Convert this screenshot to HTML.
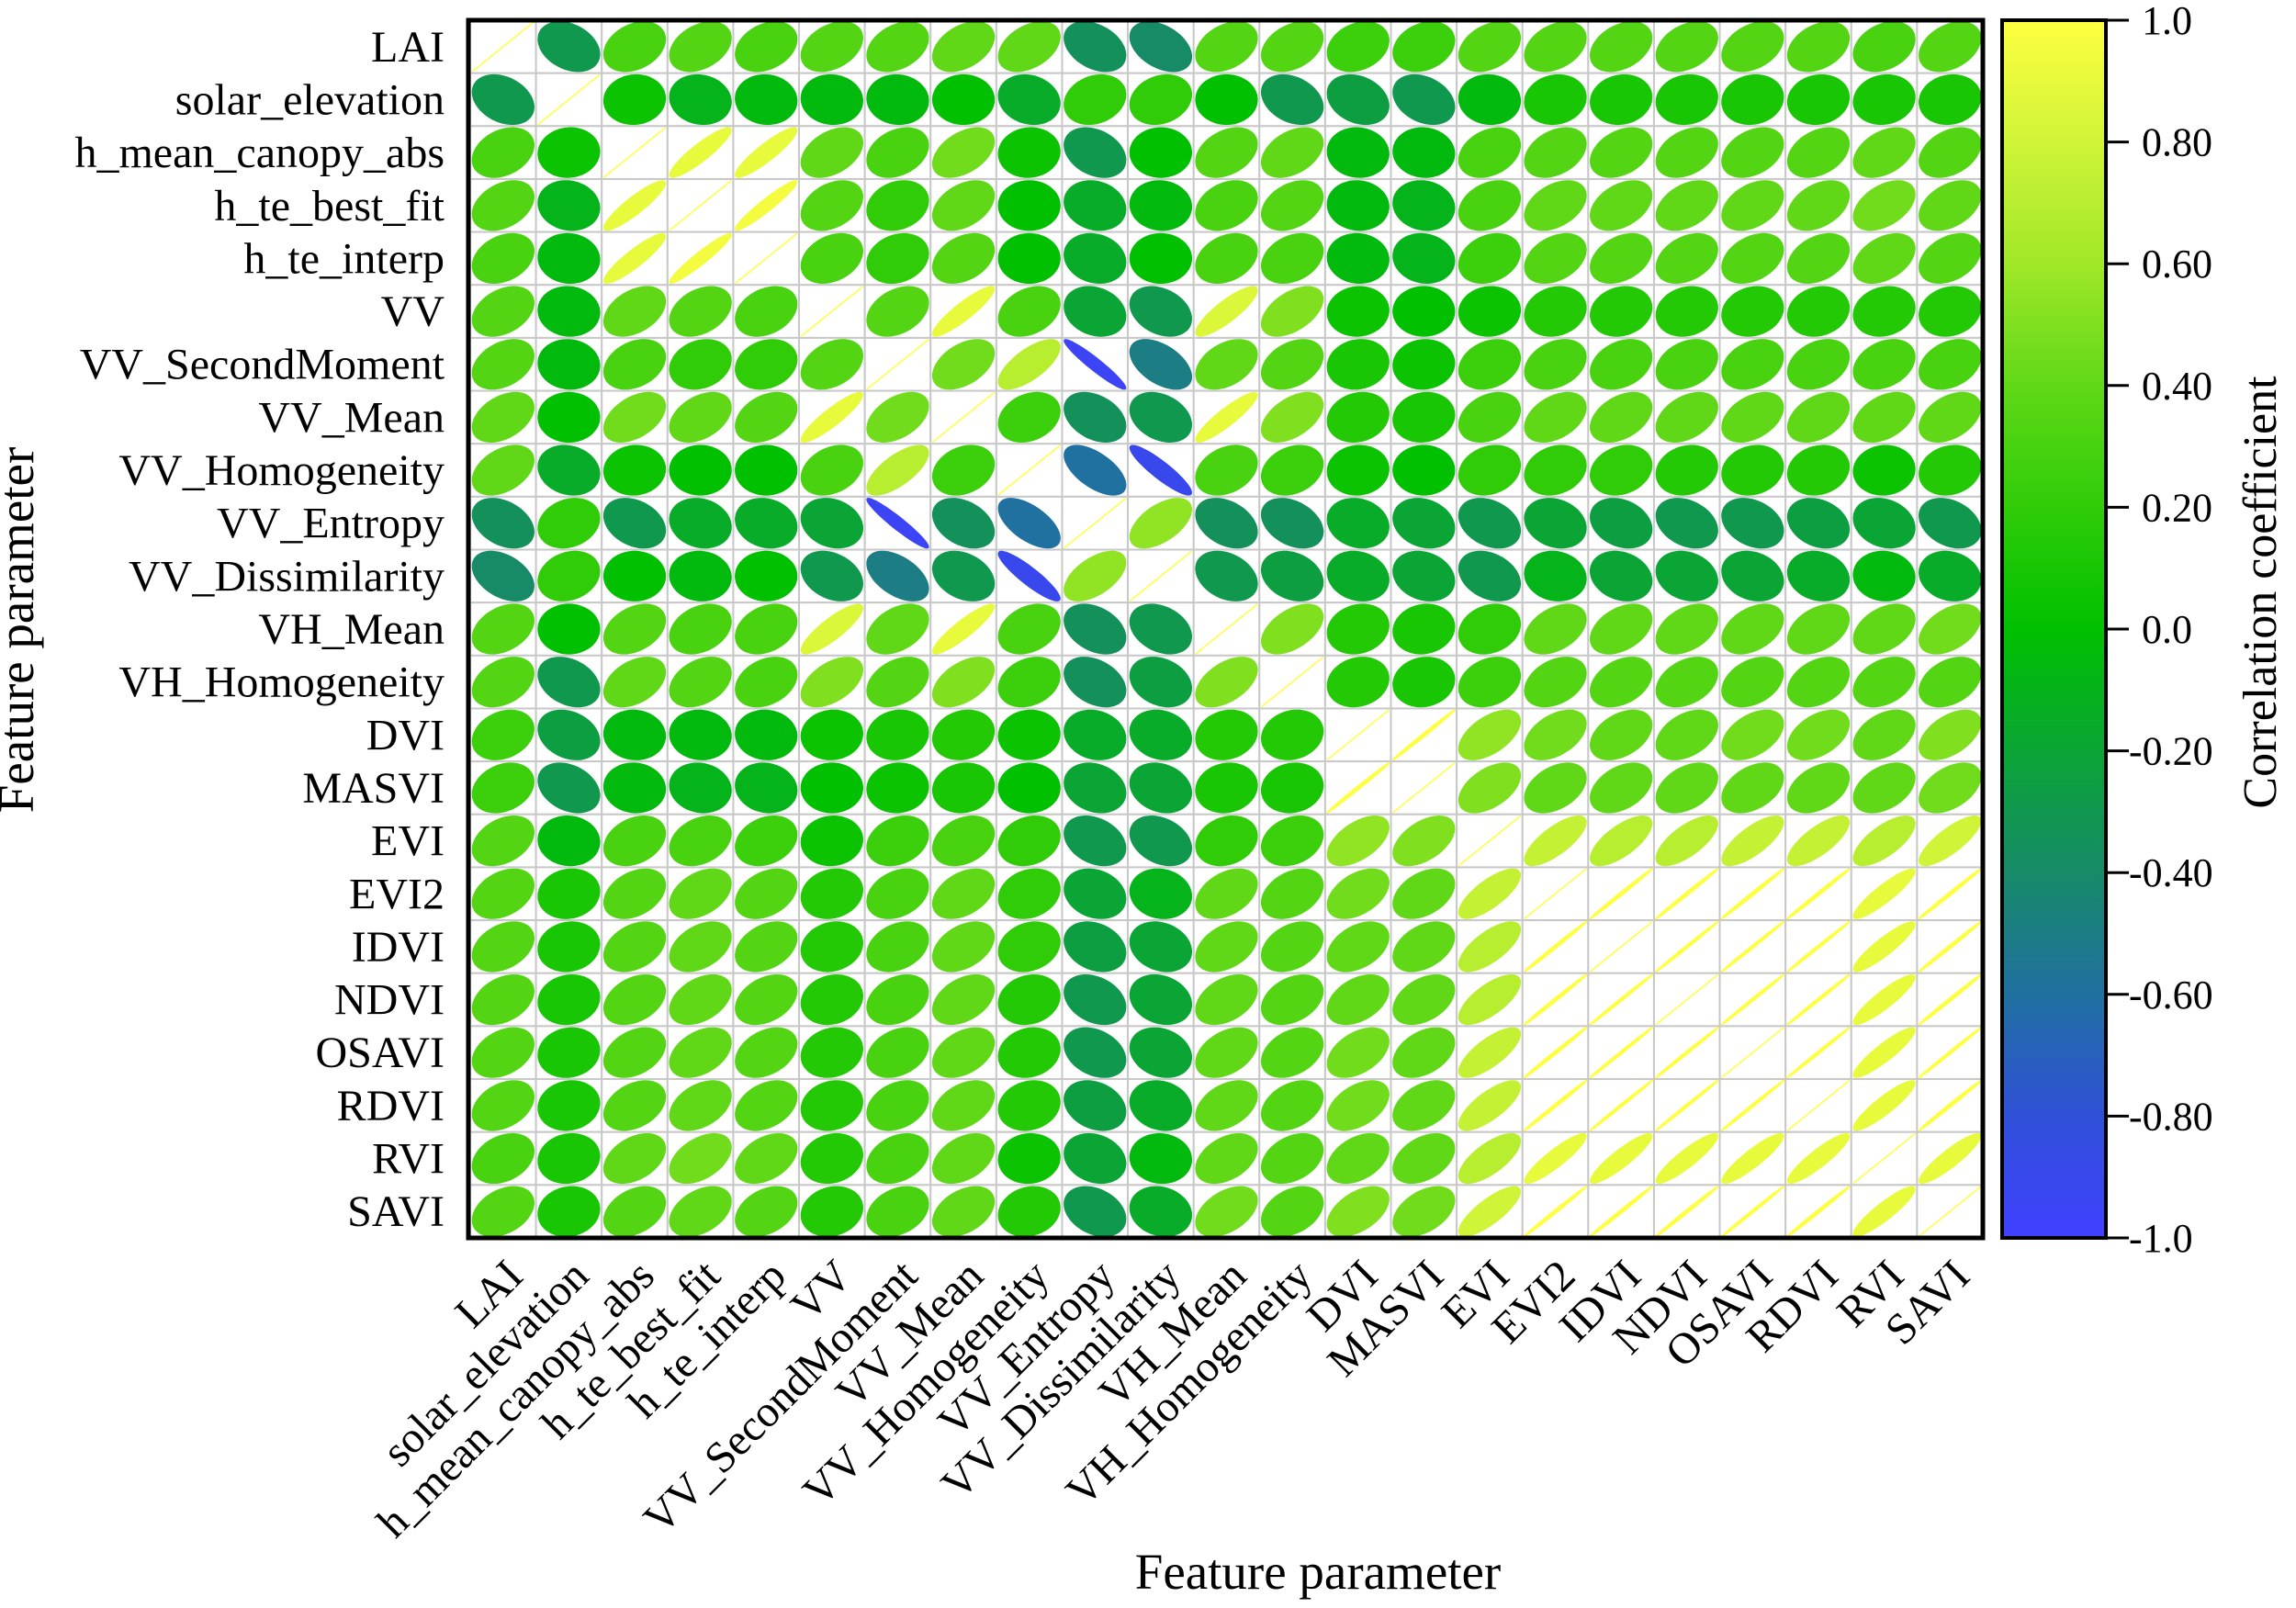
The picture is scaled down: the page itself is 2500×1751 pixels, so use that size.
<!DOCTYPE html>
<html><head><meta charset="utf-8"><style>
html,body{margin:0;padding:0;background:#fff;}
svg text{font-family:"Liberation Serif",serif;fill:#000;}
</style></head><body>
<svg id="chart" xmlns="http://www.w3.org/2000/svg" width="2500" height="1746" viewBox="0 0 2500 1746">
<defs>
<linearGradient id="cbar" x1="0" y1="1" x2="0" y2="0">
<stop offset="0" stop-color="#4040ff"/><stop offset="0.1" stop-color="#3050d8"/><stop offset="0.2" stop-color="#2070a0"/>
<stop offset="0.3" stop-color="#178a68"/><stop offset="0.4" stop-color="#0aa535"/><stop offset="0.5" stop-color="#00c000"/>
<stop offset="0.6" stop-color="#30cc08"/><stop offset="0.7" stop-color="#60d818"/><stop offset="0.8" stop-color="#a0e828"/>
<stop offset="0.9" stop-color="#d0f438"/><stop offset="1" stop-color="#ffff40"/></linearGradient>
</defs>
<g id="cells"></g>
<rect x="510" y="22" width="1649" height="1326" fill="none" stroke="#000" stroke-width="5"/>
<g id="ylabels"></g>
<g id="xlabels"></g>
<text x="1435" y="1730" font-size="55" text-anchor="middle">Feature parameter</text>
<text transform="translate(36,686) rotate(-90)" font-size="55" text-anchor="middle">Feature parameter</text>
<rect x="2180" y="22" width="113" height="1326" fill="url(#cbar)" stroke="#000" stroke-width="4"/>
<g id="cbticks"></g>
<text transform="translate(2478,645) rotate(-90)" font-size="52" text-anchor="middle">Correlation coefficient</text>
</svg>
<script>
const labels=["LAI","solar_elevation","h_mean_canopy_abs","h_te_best_fit","h_te_interp","VV","VV_SecondMoment","VV_Mean","VV_Homogeneity","VV_Entropy","VV_Dissimilarity","VH_Mean","VH_Homogeneity","DVI","MASVI","EVI","EVI2","IDVI","NDVI","OSAVI","RDVI","RVI","SAVI"];
const upperRows=[
[-0.3,0.3,0.35,0.3,0.35,0.35,0.4,0.4,-0.35,-0.4,0.35,0.35,0.25,0.25,0.35,0.35,0.35,0.35,0.35,0.35,0.3,0.35],
[0.05,-0.1,-0.05,-0.05,-0.05,0.0,-0.15,0.2,0.2,0.0,-0.3,-0.25,-0.3,-0.05,0.1,0.1,0.1,0.1,0.1,0.1,0.1],
[0.9,0.9,0.4,0.3,0.45,0.05,-0.3,0.0,0.35,0.4,-0.05,-0.05,0.3,0.35,0.35,0.35,0.35,0.35,0.4,0.35],
[0.95,0.35,0.2,0.4,0.0,-0.15,-0.05,0.3,0.35,-0.05,-0.1,0.3,0.4,0.4,0.4,0.4,0.4,0.45,0.4],
[0.3,0.2,0.35,0.0,-0.15,0.0,0.3,0.3,-0.05,-0.1,0.25,0.35,0.35,0.35,0.35,0.35,0.4,0.35],
[0.35,0.9,0.3,-0.2,-0.3,0.85,0.5,0.05,0.0,0.05,0.15,0.15,0.15,0.15,0.15,0.15,0.15],
[0.45,0.7,-0.95,-0.5,0.4,0.35,0.1,0.05,0.25,0.3,0.3,0.3,0.3,0.3,0.3,0.3],
[0.25,-0.35,-0.3,0.9,0.5,0.15,0.1,0.3,0.4,0.4,0.4,0.4,0.4,0.4,0.4],
[-0.6,-0.9,0.3,0.25,0.05,0.0,0.2,0.2,0.2,0.15,0.15,0.15,0.05,0.15],
[0.55,-0.35,-0.35,-0.15,-0.2,-0.3,-0.2,-0.25,-0.3,-0.3,-0.25,-0.2,-0.3],
[-0.3,-0.25,-0.15,-0.2,-0.3,-0.1,-0.2,-0.2,-0.2,-0.15,-0.05,-0.15],
[0.5,0.15,0.1,0.2,0.4,0.4,0.4,0.4,0.4,0.4,0.45],
[0.15,0.1,0.25,0.35,0.35,0.35,0.35,0.35,0.35,0.35],
[0.997,0.55,0.45,0.4,0.4,0.45,0.45,0.4,0.5],
[0.5,0.4,0.4,0.4,0.4,0.4,0.4,0.45],
[0.75,0.7,0.7,0.75,0.75,0.7,0.8],
[0.997,0.997,0.997,0.997,0.9,0.997],
[0.998,0.998,0.998,0.9,0.997],
[0.998,0.998,0.9,0.997],
[0.998,0.9,0.998],
[0.9,0.997],
[0.9],
[]
];
const cbTicks=[1.0,0.8,0.6,0.4,0.2,0.0,-0.2,-0.4,-0.6,-0.8,-1.0];
const cbTickLabels=["1.0","0.80","0.60","0.40","0.20","0.0","-0.20","-0.40","-0.60","-0.80","-1.0"];

const NS="http://www.w3.org/2000/svg";
const n=labels.length, L=512, T=22, R=2159, B=1348;
const cw=(R-L)/n, ch=(B-T)/n;
const xc=i=>L+cw*(i+0.5), yc=i=>T+ch*(i+0.5);
const cbY=v=>B-(v+1)/2*(B-T);
const stops=[[-1,[64,64,255]],[-0.8,[48,80,216]],[-0.6,[32,112,160]],[-0.4,[23,138,104]],[-0.2,[10,165,53]],[0,[0,192,0]],[0.2,[48,204,8]],[0.4,[96,216,24]],[0.6,[160,232,40]],[0.8,[208,244,56]],[1,[255,255,64]]];
function color(v){for(let k=0;k<stops.length-1;k++){const a=stops[k],b=stops[k+1];if(v<=b[0]){const t=(v-a[0])/(b[0]-a[0]);return 'rgb('+a[1].map((c,j)=>Math.round(c+(b[1][j]-c)*t)).join(',')+')';}}return 'rgb(255,255,64)';}
function val(i,j){if(i===j)return 1;const a=Math.min(i,j),b=Math.max(i,j);return upperRows[a][b-a-1];}
function mk(t,attrs,parent){const e=document.createElementNS(NS,t);for(const k in attrs)e.setAttribute(k,attrs[k]);parent.appendChild(e);return e;}
const cells=document.getElementById('cells');
for(let i=0;i<n;i++)for(let j=0;j<n;j++){
  const r=val(i,j);
  const rect=mk('rect',{x:L+cw*j,y:T+ch*i,width:cw,height:ch,fill:'#fff',stroke:'#c8c8c8','stroke-width':2},cells);
  
  
  const d=Math.acos(Math.max(-1,Math.min(1,r)));
  const sx=cw*0.47, sy=ch*0.47;let p='';
  for(let k=0;k<=60;k++){const t=k/60*2*Math.PI;const x=xc(j)+sx*Math.cos(t+d/2), y=yc(i)-sy*Math.cos(t-d/2);p+=(k?'L':'M')+x.toFixed(1)+','+y.toFixed(1);}
  const el=mk('path',{d:p+'Z',fill:color(r),stroke:color(r),'stroke-width':Math.abs(r)>0.97?1.5:1},cells);
  
  
}
const yl=document.getElementById('ylabels'), xl=document.getElementById('xlabels');
labels.forEach((s,i)=>{
  const t=mk('text',{x:484,y:yc(i)+16,'font-size':48,'text-anchor':'end'},yl);t.textContent=s;
  
  
  const u=mk('text',{transform:'translate('+(xc(i)+24)+',1392) rotate(-45)','font-size':48,'text-anchor':'end'},xl);u.textContent=s;
  
  
});
const cbt=document.getElementById('cbticks');
cbTicks.forEach((v,k)=>{
  const ln=mk('line',{x1:2293,x2:2298+20,y1:cbY(v),y2:cbY(v),stroke:'#000','stroke-width':3},cbt);
  
  
  const t=mk('text',{x:v<0?2318:2332,y:cbY(v)+15,'font-size':44},cbt);t.textContent=cbTickLabels[k];
  
  
});
</script>
</body></html>
